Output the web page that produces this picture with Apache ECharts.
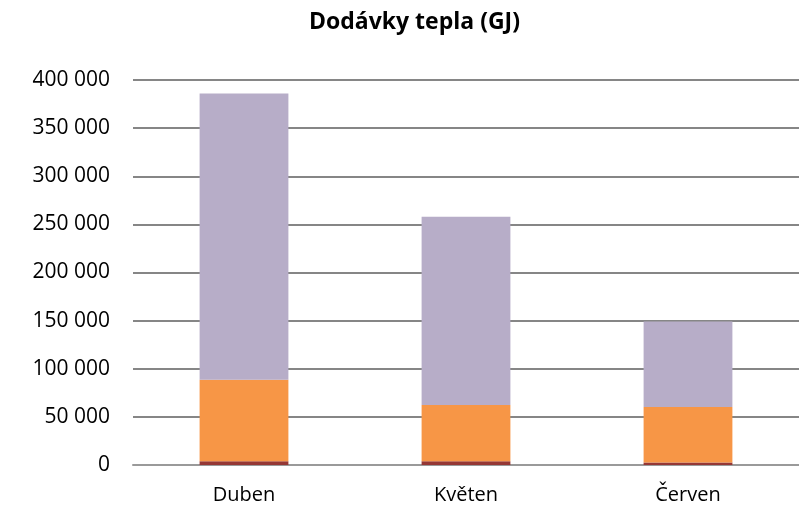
<!DOCTYPE html>
<html>
<head>
<meta charset="utf-8">
<script src="https://cdn.jsdelivr.net/npm/echarts@6/dist/echarts.min.js"></script>
<style>
  html, body { margin: 0; padding: 0; background: #fff; }
  #chart { width: 799px; height: 509px; }
</style>
</head>
<body>
<div id="chart"></div>
<script>
// měsíce a hodnoty (GJ)
const months = ['Duben', 'Květen', 'Červen'];
const seriesBottom = [4000, 3800, 2500];
const seriesMiddle = [84500, 58500, 57800];
const seriesTop = [297500, 195500, 88800];
const yTicks = [0, 50000, 100000, 150000, 200000, 250000, 300000, 350000, 400000];

const chart = echarts.init(document.getElementById('chart'));

const fmt = v => String(v).replace(/\B(?=(\d{3})+(?!\d))/g, ' ');
const font = '"Open Sans", sans-serif';

chart.setOption({
    animation: false,
    textStyle: { fontFamily: font },
    title: {
        text: 'Dodávky tepla (GJ)',
        left: 304,
        top: 6,
        textStyle: { fontSize: 23, fontWeight: 'bold', color: '#000', fontFamily: font }
    },
    grid: { left: 133, right: 0, top: 80, bottom: 44 },
    xAxis: {
        type: 'category',
        data: months,
        axisLine: { lineStyle: { color: '#9a9a9a', width: 2 } },
        axisTick: { show: false },
        axisLabel: { fontSize: 20, color: '#000', margin: 20 }
    },
    yAxis: {
        type: 'value',
        min: yTicks[0],
        max: yTicks[yTicks.length - 1],
        interval: 50000,
        axisLine: { show: false },
        axisTick: { show: false },
        splitLine: { lineStyle: { color: '#868686', width: 2 } },
        axisLabel: { fontSize: 21, color: '#000', margin: 23, formatter: fmt }
    },
    series: [
        { type: 'bar', stack: 'a', data: seriesBottom, barWidth: '40%', itemStyle: { color: '#953735' } },
        { type: 'bar', stack: 'a', data: seriesMiddle, barWidth: '40%', itemStyle: { color: '#F79646' } },
        { type: 'bar', stack: 'a', data: seriesTop, barWidth: '40%', itemStyle: { color: '#B7ADC8' } }
    ]
});
</script>
</body>
</html>
